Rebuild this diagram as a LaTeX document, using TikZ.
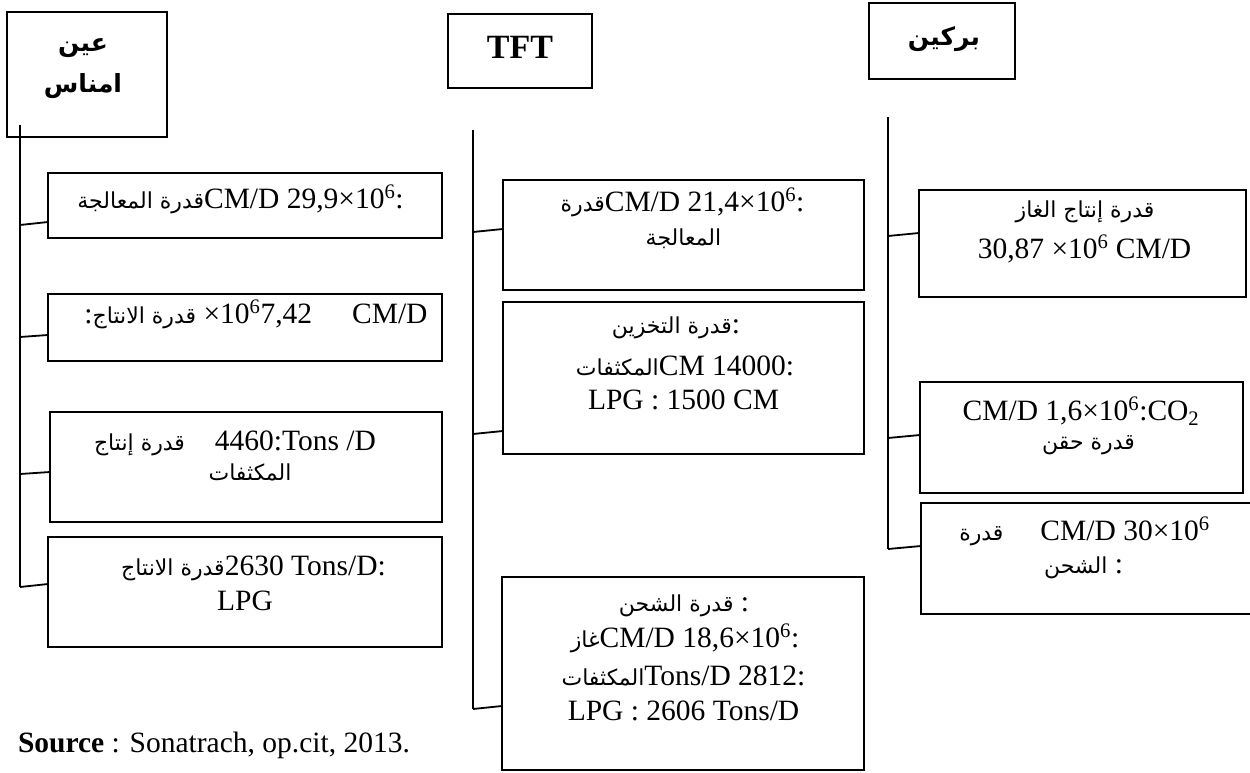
\documentclass[tikz,border=0pt]{standalone}
\usepackage{fontspec}
\setmainfont{Liberation Serif}
\newfontfamily\arabicfont[Script=Arabic]{DejaVu Sans}
\TeXXeTstate=1
% Arabic runs, set right to left
\newcommand{\artxt}[1]{{\arabicfont\fontsize{22}{27}\selectfont\beginR #1\endR}}
\newcommand{\arhead}[1]{{\arabicfont\bfseries\fontsize{25}{30}\selectfont\beginR #1\endR}}
\newcommand{\tensix}{10\textsuperscript{6}}

\begin{document}
\begin{tikzpicture}[x=1pt,y=-1pt,
  box/.style={draw=black, line width=1.8pt, rectangle, inner sep=0pt, outer sep=0pt, anchor=north west},
  link/.style={draw=black, line width=1.8pt},
  txt/.style={inner sep=0pt, outer sep=0pt, anchor=base, font=\fontsize{29.5}{35}\selectfont},
  head/.style={inner sep=0pt, outer sep=0pt, anchor=base},
]
\useasboundingbox (0,0) rectangle (1250,773);

% ---------- headers ----------
\node[box, minimum width=160pt, minimum height=125pt] (h1) at (7,12) {};
\node[box, minimum width=144pt, minimum height=74pt]  (h2) at (448,14) {};
\node[box, minimum width=146pt, minimum height=76pt]  (h3) at (869,3) {};

\node[head] (h1a) at (83,52) {\arhead{عين}};
\node[head] (h1b) at (83,93) {\arhead{امناس}};
\node[head, font=\fontsize{34}{40}\selectfont\bfseries] (h2a) at (520,59) {TFT};
\node[head] (h3a) at (944,46) {\arhead{بركين}};

% ---------- column 1 ----------
\node[box, minimum width=394pt, minimum height=65pt]  (la1) at (48,173) {};
\node[box, minimum width=394pt, minimum height=67pt]  (la2) at (48,294) {};
\node[box, minimum width=392pt, minimum height=110pt] (la3) at (50,412) {};
\node[box, minimum width=394pt, minimum height=110pt] (la4) at (48,537) {};

\node[txt] (la1t) at (240.5,208) {\artxt{قدرة المعالجة}CM/D 29,9×\tensix:};
\node[txt] (la2t) at (256,323) {:\artxt{قدرة الانتاج} ×\tensix7,42\hspace{40pt}CM/D};
\node[txt] (la3t) at (235,450) {\artxt{قدرة إنتاج}\hspace{30pt}4460:Tons /D};
\node[txt] (la3u) at (250,480) {\artxt{المكثفات}};
\node[txt] (la4t) at (253.5,575) {\artxt{قدرة الانتاج}2630 Tons/D:};
\node[txt] (la4u) at (245,610) {LPG};

\coordinate (ltop) at (20,125);
\coordinate (l1) at (20,225);
\coordinate (l2) at (20,337);
\coordinate (l3) at (20,474);
\coordinate (l4) at (20,587);
\draw[link] (ltop) -- (l4);
\draw[link] (l1) -- ([yshift=3pt]l1 -| la1.west);
\draw[link] (l2) -- ([yshift=2pt]l2 -| la2.west);
\draw[link] (l3) -- ([yshift=2pt]l3 -| la3.west);
\draw[link] (l4) -- ([yshift=3pt]l4 -| la4.west);

% ---------- column 2 ----------
\node[box, minimum width=361pt, minimum height=110pt] (ta1) at (503,180) {};
\node[box, minimum width=361pt, minimum height=152pt] (ta2) at (503,302) {};
\node[box, minimum width=362pt, minimum height=193pt] (ta3) at (502,577) {};

\node[txt] (ta1t) at (682.5,211) {\artxt{قدرة}CM/D 21,4×\tensix:};
\node[txt] (ta1u) at (683.5,245) {\artxt{المعالجة}};
\node[txt] (ta2t) at (676,333) {\artxt{قدرة التخزين}:};
\node[txt] (ta2u) at (685,375) {\artxt{المكثفات}CM 14000:};
\node[txt] (ta2v) at (683.5,409) {LPG : 1500 CM};
\node[txt] (ta3t) at (684,611) {\artxt{قدرة الشحن} :};
\node[txt] (ta3u) at (685,647) {\artxt{غاز}CM/D 18,6×\tensix:};
\node[txt] (ta3v) at (683.5,685) {\artxt{المكثفات}Tons/D 2812:};
\node[txt] (ta3w) at (683.5,720) {LPG : 2606 Tons/D};

\coordinate (ttop) at (473,130);
\coordinate (t1) at (473,232);
\coordinate (t2) at (473,434);
\coordinate (t3) at (473,709);
\draw[link] (ttop) -- (t3);
\draw[link] (t1) -- ([yshift=3pt]t1 -| ta1.west);
\draw[link] (t2) -- ([yshift=3pt]t2 -| ta2.west);
\draw[link] (t3) -- ([yshift=3pt]t3 -| ta3.west);

% ---------- column 3 ----------
\node[box, minimum width=327pt, minimum height=107pt] (ra1) at (919,190) {};
\node[box, minimum width=323pt, minimum height=111pt] (ra2) at (920,382) {};
\node[box, minimum width=331pt, minimum height=111pt] (ra3) at (921,503) {};

\node[txt] (ra1t) at (1085,217) {\artxt{قدرة إنتاج الغاز}};
\node[txt] (ra1u) at (1084.5,258) {30,87 ×\tensix{} CM/D};
\node[txt] (ra2t) at (1081,420) {CM/D 1,6×\tensix:CO\textsubscript{2}};
\node[txt] (ra2u) at (1088.5,449) {\artxt{قدرة حقن}};
\node[txt] (ra3t) at (1084.5,540) {\artxt{قدرة}\hspace{37pt}CM/D 30×\tensix};
\node[txt] (ra3u) at (1083.5,573) {\artxt{الشحن} :};

\coordinate (rtop) at (888,117);
\coordinate (r1) at (888,236);
\coordinate (r2) at (888,438);
\coordinate (r3) at (888,549);
\draw[link] (rtop) -- (r3);
\draw[link] (r1) -- ([yshift=3pt]r1 -| ra1.west);
\draw[link] (r2) -- ([yshift=3pt]r2 -| ra2.west);
\draw[link] (r3) -- ([yshift=3pt]r3 -| ra3.west);

% ---------- source ----------
\node[txt, anchor=base west] (src) at (18,752) {\textbf{Source} : Sonatrach, op.cit, 2013.};
\end{tikzpicture}
\end{document}
